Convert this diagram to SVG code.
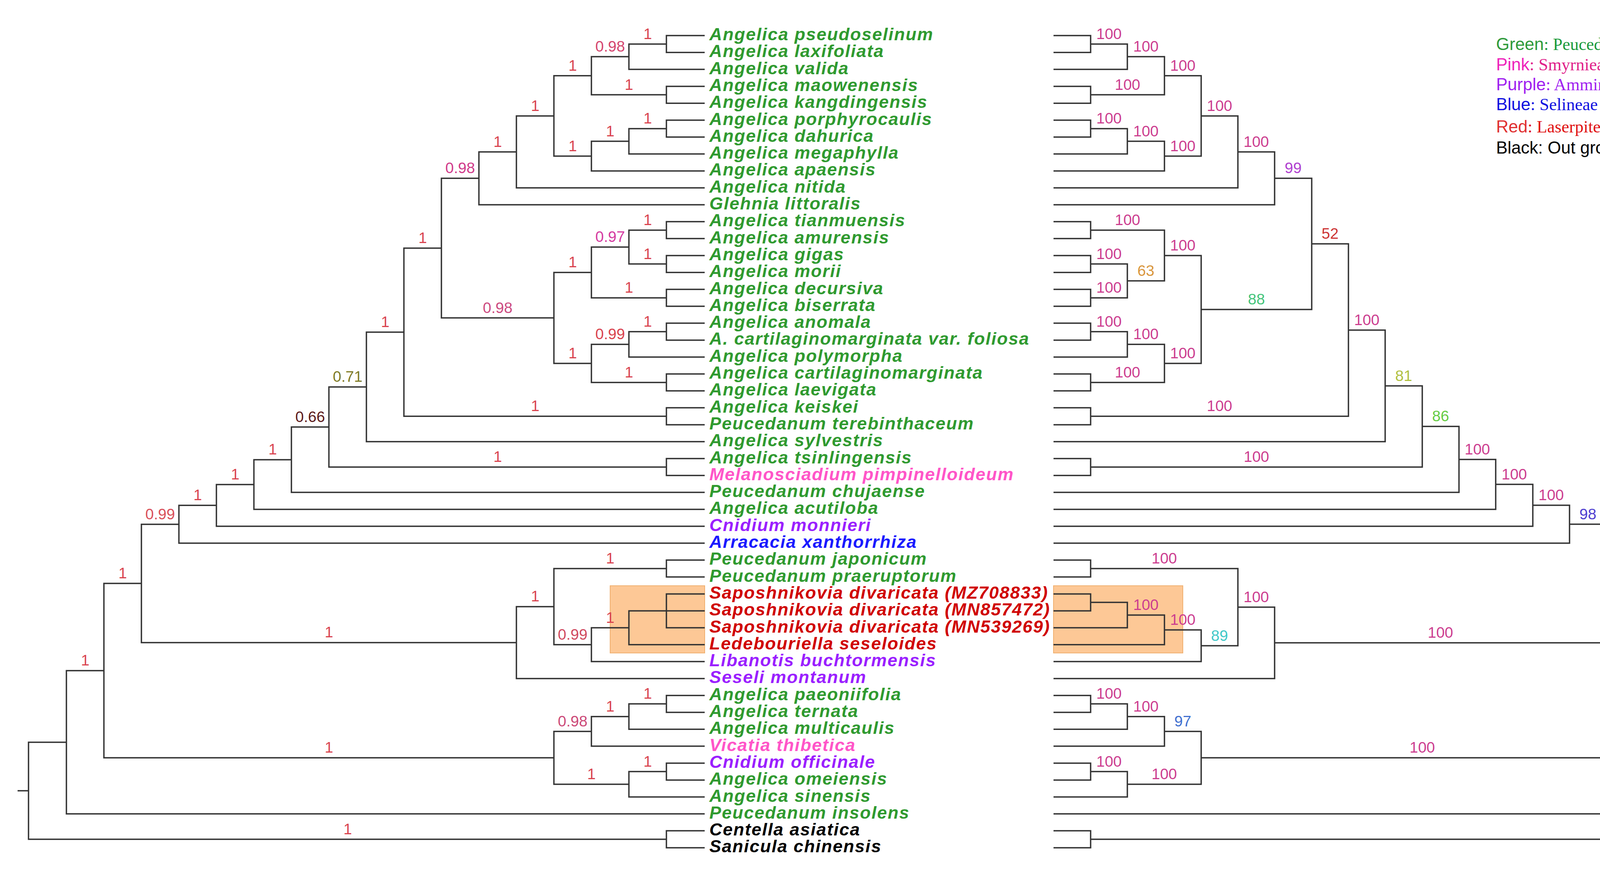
<svg xmlns="http://www.w3.org/2000/svg" width="4455" height="2252" viewBox="0 0 4455 2252">
<style>
.e{fill:none;stroke:#333;stroke-width:3.5}
.t{font-family:"Liberation Sans",Arial,sans-serif;font-weight:bold;font-style:italic;font-size:45px;letter-spacing:2px}
.g{fill:#2f9a2f}.pk{fill:#ff55c8}.pu{fill:#9b1fff}.bl{fill:#1a1aff}.rd{fill:#d00000}.bk{fill:#000}
.s{font-family:"Liberation Sans",Arial,sans-serif;font-size:39px;text-anchor:middle}
.r1{fill:#d9434e}.p1{fill:#cc3d8f}
.lg{font-family:"Liberation Sans",Arial,sans-serif;font-size:44px}
.ls{font-family:"Liberation Serif","Times New Roman",serif;font-size:44px}
</style>
<rect width="4455" height="2252" fill="#fff"/>
<g id="highlight">
<rect x="1562" y="1499" width="242" height="172" fill="#fdc896" stroke="#f0b070" stroke-width="2"/>
<rect x="2697" y="1499" width="331" height="172" fill="#fdc896" stroke="#f0b070" stroke-width="2"/>
</g>
<g id="connectors" class="e">
<path d="M1804 91 H1706 V134.3 H1804"/>
<path d="M1706 112.65 H1610 V177.6 H1804"/>
<path d="M1804 220.9 H1706 V264.2 H1804"/>
<path d="M1610 145.1 H1514 V242.55 H1706"/>
<path d="M1804 307.5 H1706 V350.8 H1804"/>
<path d="M1706 329.15 H1610 V394.1 H1804"/>
<path d="M1610 361.6 H1514 V437.4 H1804"/>
<path d="M1514 193.8 H1418 V399.5 H1514"/>
<path d="M1418 296.65 H1322 V480.7 H1804"/>
<path d="M1322 388.7 H1226 V524 H1804"/>
<path d="M1804 567.3 H1706 V610.6 H1804"/>
<path d="M1804 653.9 H1706 V697.2 H1804"/>
<path d="M1706 588.95 H1610 V675.55 H1706"/>
<path d="M1804 740.5 H1706 V783.8 H1804"/>
<path d="M1610 632.25 H1514 V762.15 H1706"/>
<path d="M1804 827.1 H1706 V870.4 H1804"/>
<path d="M1706 848.75 H1610 V913.7 H1804"/>
<path d="M1804 957 H1706 V1000.3 H1804"/>
<path d="M1610 881.2 H1514 V978.65 H1706"/>
<path d="M1514 697.2 H1418 V929.9 H1514"/>
<path d="M1226 456.35 H1130 V813.55 H1418"/>
<path d="M1804 1043.6 H1706 V1086.9 H1804"/>
<path d="M1130 634.95 H1034 V1065.25 H1706"/>
<path d="M1034 850.1 H938 V1130.2 H1804"/>
<path d="M1804 1173.5 H1706 V1216.8 H1804"/>
<path d="M938 990.15 H842 V1195.15 H1706"/>
<path d="M842 1092.65 H746 V1260.1 H1804"/>
<path d="M746 1176.4 H650 V1303.4 H1804"/>
<path d="M650 1239.9 H554 V1346.7 H1804"/>
<path d="M554 1293.3 H458 V1390 H1804"/>
<path d="M1804 1433.3 H1706 V1476.6 H1804"/>
<path d="M1804 1519.9 H1706 V1606.5 H1804"/>
<path d="M1804 1563.2 H1610 V1649.8 H1804"/>
<path d="M1610 1606.5 H1514 V1693.1 H1804"/>
<path d="M1706 1454.95 H1418 V1649.8 H1514"/>
<path d="M1418 1552.4 H1322 V1736.4 H1804"/>
<path d="M458 1341.65 H362 V1644.4 H1322"/>
<path d="M1804 1779.7 H1706 V1823 H1804"/>
<path d="M1706 1801.35 H1610 V1866.3 H1804"/>
<path d="M1610 1833.8 H1514 V1909.6 H1804"/>
<path d="M1804 1952.9 H1706 V1996.2 H1804"/>
<path d="M1706 1974.55 H1610 V2039.5 H1804"/>
<path d="M1514 1871.7 H1418 V2007 H1610"/>
<path d="M362 1493 H266 V1939.35 H1418"/>
<path d="M266 1716.2 H170 V2082.8 H1804"/>
<path d="M1804 2126.1 H1706 V2169.4 H1804"/>
<path d="M170 1899.5 H73 V2147.75 H1706"/>
<path d="M45 2023.6 H73"/>
<path d="M2697 91 H2792 V134.3 H2697"/>
<path d="M2792 112.65 H2886 V177.6 H2697"/>
<path d="M2697 220.9 H2792 V264.2 H2697"/>
<path d="M2886 145.1 H2981 V242.55 H2792"/>
<path d="M2697 307.5 H2792 V350.8 H2697"/>
<path d="M2792 329.15 H2886 V394.1 H2697"/>
<path d="M2886 361.6 H2981 V437.4 H2697"/>
<path d="M2981 193.8 H3075 V399.5 H2981"/>
<path d="M3075 296.65 H3169 V480.7 H2697"/>
<path d="M3169 388.7 H3263 V524 H2697"/>
<path d="M2697 567.3 H2792 V610.6 H2697"/>
<path d="M2697 653.9 H2792 V697.2 H2697"/>
<path d="M2697 740.5 H2792 V783.8 H2697"/>
<path d="M2792 675.55 H2886 V762.15 H2792"/>
<path d="M2792 588.95 H2981 V718.85 H2886"/>
<path d="M2697 827.1 H2792 V870.4 H2697"/>
<path d="M2792 848.75 H2886 V913.7 H2697"/>
<path d="M2697 957 H2792 V1000.3 H2697"/>
<path d="M2886 881.2 H2981 V978.65 H2792"/>
<path d="M2981 653.9 H3075 V929.9 H2981"/>
<path d="M3263 456.35 H3358 V791.9 H3075"/>
<path d="M2697 1043.6 H2792 V1086.9 H2697"/>
<path d="M3358 624.1 H3452 V1065.25 H2792"/>
<path d="M3452 844.7 H3546 V1130.2 H2697"/>
<path d="M2697 1173.5 H2792 V1216.8 H2697"/>
<path d="M3546 987.45 H3641 V1195.15 H2792"/>
<path d="M3641 1091.3 H3735 V1260.1 H2697"/>
<path d="M3735 1175.7 H3829 V1303.4 H2697"/>
<path d="M3829 1239.55 H3924 V1346.7 H2697"/>
<path d="M3924 1293.1 H4018 V1390 H2697"/>
<path d="M2697 1433.3 H2792 V1476.6 H2697"/>
<path d="M2697 1519.9 H2792 V1563.2 H2697"/>
<path d="M2792 1541.55 H2886 V1606.5 H2697"/>
<path d="M2886 1574 H2981 V1649.8 H2697"/>
<path d="M2981 1611.9 H3075 V1693.1 H2697"/>
<path d="M2792 1454.95 H3169 V1652.5 H3075"/>
<path d="M3169 1553.7 H3263 V1736.4 H2697"/>
<path d="M4018 1341.55 H4112 V1645.05 H3263"/>
<path d="M2697 1779.7 H2792 V1823 H2697"/>
<path d="M2792 1801.35 H2886 V1866.3 H2697"/>
<path d="M2886 1833.8 H2981 V1909.6 H2697"/>
<path d="M2697 1952.9 H2792 V1996.2 H2697"/>
<path d="M2792 1974.55 H2886 V2039.5 H2697"/>
<path d="M2981 1871.7 H3075 V2007 H2886"/>
<path d="M4112 1493.3 H4207 V1939.35 H3075"/>
<path d="M4207 1716.3 H4301 V2082.8 H2697"/>
<path d="M2697 2126.1 H2792 V2169.4 H2697"/>
<path d="M4301 1899.55 H4395 V2147.75 H2792"/>
<path d="M4395 2023.65 H4411"/>
</g>
<g id="taxa" class="t">
<text id="n1" x="1816" y="103" class="g">Angelica pseudoselinum</text>
<text id="n2" x="1816" y="146.3" class="g">Angelica laxifoliata</text>
<text id="n3" x="1816" y="189.6" class="g">Angelica valida</text>
<text id="n4" x="1816" y="232.9" class="g">Angelica maowenensis</text>
<text id="n5" x="1816" y="276.2" class="g">Angelica kangdingensis</text>
<text id="n6" x="1816" y="319.5" class="g">Angelica porphyrocaulis</text>
<text id="n7" x="1816" y="362.8" class="g">Angelica dahurica</text>
<text id="n8" x="1816" y="406.1" class="g">Angelica megaphylla</text>
<text id="n9" x="1816" y="449.4" class="g">Angelica apaensis</text>
<text id="n10" x="1816" y="492.7" class="g">Angelica nitida</text>
<text id="n11" x="1816" y="536" class="g">Glehnia littoralis</text>
<text id="n12" x="1816" y="579.3" class="g">Angelica tianmuensis</text>
<text id="n13" x="1816" y="622.6" class="g">Angelica amurensis</text>
<text id="n14" x="1816" y="665.9" class="g">Angelica gigas</text>
<text id="n15" x="1816" y="709.2" class="g">Angelica morii</text>
<text id="n16" x="1816" y="752.5" class="g">Angelica decursiva</text>
<text id="n17" x="1816" y="795.8" class="g">Angelica biserrata</text>
<text id="n18" x="1816" y="839.1" class="g">Angelica anomala</text>
<text id="n19" x="1816" y="882.4" class="g">A. cartilaginomarginata var. foliosa</text>
<text id="n20" x="1816" y="925.7" class="g">Angelica polymorpha</text>
<text id="n21" x="1816" y="969" class="g">Angelica cartilaginomarginata</text>
<text id="n22" x="1816" y="1012.3" class="g">Angelica laevigata</text>
<text id="n23" x="1816" y="1055.6" class="g">Angelica keiskei</text>
<text id="n24" x="1816" y="1098.9" class="g">Peucedanum terebinthaceum</text>
<text id="n25" x="1816" y="1142.2" class="g">Angelica sylvestris</text>
<text id="n26" x="1816" y="1185.5" class="g">Angelica tsinlingensis</text>
<text id="n27" x="1816" y="1228.8" class="pk">Melanosciadium pimpinelloideum</text>
<text id="n28" x="1816" y="1272.1" class="g">Peucedanum chujaense</text>
<text id="n29" x="1816" y="1315.4" class="g">Angelica acutiloba</text>
<text id="n30" x="1816" y="1358.7" class="pu">Cnidium monnieri</text>
<text id="n31" x="1816" y="1402" class="bl">Arracacia xanthorrhiza</text>
<text id="n32" x="1816" y="1445.3" class="g">Peucedanum japonicum</text>
<text id="n33" x="1816" y="1488.6" class="g">Peucedanum praeruptorum</text>
<text id="n34" x="1816" y="1531.9" class="rd">Saposhnikovia divaricata (MZ708833)</text>
<text id="n35" x="1816" y="1575.2" class="rd">Saposhnikovia divaricata (MN857472)</text>
<text id="n36" x="1816" y="1618.5" class="rd">Saposhnikovia divaricata (MN539269)</text>
<text id="n37" x="1816" y="1661.8" class="rd">Ledebouriella seseloides</text>
<text id="n38" x="1816" y="1705.1" class="pu">Libanotis buchtormensis</text>
<text id="n39" x="1816" y="1748.4" class="pu">Seseli montanum</text>
<text id="n40" x="1816" y="1791.7" class="g">Angelica paeoniifolia</text>
<text id="n41" x="1816" y="1835" class="g">Angelica ternata</text>
<text id="n42" x="1816" y="1878.3" class="g">Angelica multicaulis</text>
<text id="n43" x="1816" y="1921.6" class="pk">Vicatia thibetica</text>
<text id="n44" x="1816" y="1964.9" class="pu">Cnidium officinale</text>
<text id="n45" x="1816" y="2008.2" class="g">Angelica omeiensis</text>
<text id="n46" x="1816" y="2051.5" class="g">Angelica sinensis</text>
<text id="n47" x="1816" y="2094.8" class="g">Peucedanum insolens</text>
<text id="n48" x="1816" y="2138.1" class="bk">Centella asiatica</text>
<text id="n49" x="1816" y="2181.4" class="bk">Sanicula chinensis</text>
</g>
<g id="left-support" class="s r1">
<text x="1658" y="99.6">1</text>
<text x="1562" y="132" fill="#d4456e">0.98</text>
<text x="1610" y="229.5">1</text>
<text x="1466" y="180.8">1</text>
<text x="1658" y="316">1</text>
<text x="1562" y="348.6">1</text>
<text x="1466" y="386.5">1</text>
<text x="1370" y="283.6">1</text>
<text x="1274" y="375.7">1</text>
<text x="1178" y="443.3" fill="#d03a8a">0.98</text>
<text x="1658" y="576">1</text>
<text x="1658" y="662.5">1</text>
<text x="1562" y="619.2" fill="#d43aa0">0.97</text>
<text x="1610" y="749">1</text>
<text x="1466" y="684.2">1</text>
<text x="1658" y="835.7">1</text>
<text x="1562" y="868.2">0.99</text>
<text x="1610" y="965.6">1</text>
<text x="1466" y="916.9">1</text>
<text x="1274" y="800.5" fill="#cc4a80">0.98</text>
<text x="1082" y="622">1</text>
<text x="1370" y="1052">1</text>
<text x="986" y="837">1</text>
<text x="890" y="977" fill="#7d7a26">0.71</text>
<text x="1274" y="1182">1</text>
<text x="794" y="1079.6" fill="#5c1a1a">0.66</text>
<text x="698" y="1163.4">1</text>
<text x="602" y="1227">1</text>
<text x="506" y="1280">1</text>
<text x="410" y="1328.6" fill="#d9505a">0.99</text>
<text x="1562" y="1442">1</text>
<text x="1562" y="1593.5">1</text>
<text x="1466" y="1636.8" fill="#d04a60">0.99</text>
<text x="1370" y="1539.4">1</text>
<text x="842" y="1631.4">1</text>
<text x="314" y="1480">1</text>
<text x="1658" y="1788">1</text>
<text x="1562" y="1820.8">1</text>
<text x="1466" y="1858.7" fill="#cc4a78">0.98</text>
<text x="1658" y="1961.5">1</text>
<text x="1514" y="1994">1</text>
<text x="842" y="1926.3">1</text>
<text x="218" y="1703">1</text>
<text x="890" y="2134.7">1</text>
</g>
<g id="right-support" class="s p1">
<text x="2839" y="99.6">100</text>
<text x="2933.5" y="132">100</text>
<text x="2886.5" y="229.5">100</text>
<text x="3028" y="180.8">100</text>
<text x="2839" y="316">100</text>
<text x="2933.5" y="348.6">100</text>
<text x="3028" y="386.5">100</text>
<text x="3122" y="283.6">100</text>
<text x="3216" y="375.7">100</text>
<text x="3310.5" y="443.3" fill="#b040d0">99</text>
<text x="2886.5" y="576">100</text>
<text x="2839" y="662.5">100</text>
<text x="2839" y="749">100</text>
<text x="2933.5" y="705.8" fill="#d9963c">63</text>
<text x="3028" y="640.9">100</text>
<text x="2839" y="835.7">100</text>
<text x="2933.5" y="868.2">100</text>
<text x="2886.5" y="965.6">100</text>
<text x="3028" y="916.9">100</text>
<text x="3216.5" y="778.9" fill="#44c47a">88</text>
<text x="3405" y="611" fill="#cc3333">52</text>
<text x="3122" y="1052">100</text>
<text x="3499" y="831.7">100</text>
<text x="3593.5" y="974.5" fill="#b0c040">81</text>
<text x="3216.5" y="1182">100</text>
<text x="3688" y="1078.3" fill="#66cc44">86</text>
<text x="3782" y="1162.7">100</text>
<text x="3876.5" y="1226.5">100</text>
<text x="3971" y="1280">100</text>
<text x="4065" y="1328.5" fill="#5040d0">98</text>
<text x="2980.5" y="1442">100</text>
<text x="2933.5" y="1561">100</text>
<text x="3028" y="1598.9">100</text>
<text x="3122" y="1639.5" fill="#40c8c8">89</text>
<text x="3216" y="1540.7">100</text>
<text x="3687.5" y="1632">100</text>
<text x="4159.5" y="1480.3">100</text>
<text x="2839" y="1788.3">100</text>
<text x="2933.5" y="1820.8">100</text>
<text x="3028" y="1858.7" fill="#4070d0">97</text>
<text x="2839" y="1961.5">100</text>
<text x="2980.5" y="1994">100</text>
<text x="3641" y="1926.3">100</text>
<text x="4254" y="1703.3">100</text>
<text x="4348" y="1886.5">100</text>
</g>
<g id="legend">
<text x="3830" y="128"><tspan class="lg" fill="#2e9a3a">Green</tspan><tspan class="ls" fill="#1a9a3a">: Peucedaneae Drude</tspan></text>
<text x="3830" y="180"><tspan class="lg" fill="#ee22bb">Pink</tspan><tspan class="ls" fill="#e0208a">: Smyrnieae Koch</tspan></text>
<text x="3830" y="231"><tspan class="lg" fill="#a020f0">Purple</tspan><tspan class="ls" fill="#a020f0">: Ammineae Koch</tspan></text>
<text x="3830" y="282"><tspan class="lg" fill="#1010e0">Blue</tspan><tspan class="ls" fill="#1010e0">: Selineae Spreng</tspan></text>
<text x="3830" y="339"><tspan class="lg" fill="#e03030">Red</tspan><tspan class="ls" fill="#e01010">: Laserpiteae Drude</tspan></text>
<text x="3830" y="393" class="lg" fill="#000">Black: Out group</text>
</g>
</svg>
